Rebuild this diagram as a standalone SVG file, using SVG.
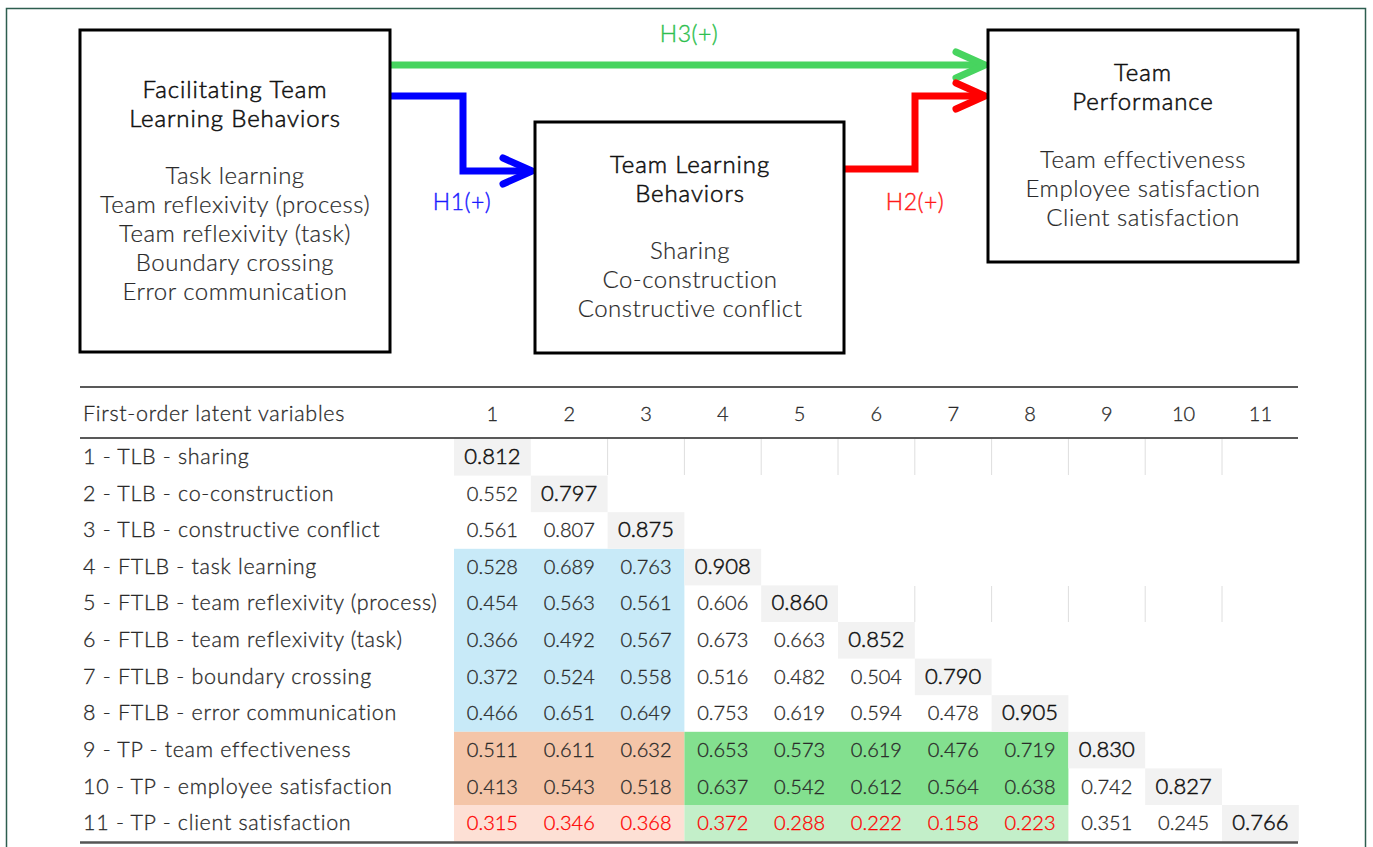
<svg xmlns="http://www.w3.org/2000/svg" width="1373" height="847" viewBox="0 0 1373 847">
<defs>
<style>
.bx{fill:#fff;stroke:#000;stroke-width:3}
.tt{font-family:Lato,"Open Sans","Liberation Sans",sans-serif;font-size:24px;letter-spacing:0.9px;fill:#111;stroke:#111;stroke-width:0.55px;text-anchor:middle;font-weight:300}
.it{font-family:Lato,"Open Sans","Liberation Sans",sans-serif;font-size:24px;letter-spacing:0.5px;fill:#2a2a2a;stroke:#2a2a2a;stroke-width:0.2px;text-anchor:middle;font-weight:300}
.lab{font-family:Lato,"Open Sans","Liberation Sans",sans-serif;font-size:23px;letter-spacing:0.5px;text-anchor:middle;font-weight:300;stroke-width:0.4px}
.con{fill:none;stroke-width:7;stroke-linejoin:miter}
.rl{font-family:Lato,"Open Sans","Liberation Sans",sans-serif;font-size:21.5px;letter-spacing:0.7px;fill:#2a2a2a;stroke:#2a2a2a;stroke-width:0.3px;font-weight:300}
.n{font-family:Lato,"Open Sans","Liberation Sans",sans-serif;font-size:20px;fill:#2a2a2a;stroke:#2a2a2a;stroke-width:0.3px;text-anchor:middle;font-weight:300}
.d{font-family:Lato,"Open Sans","Liberation Sans",sans-serif;font-size:22px;fill:#111;stroke:#111;stroke-width:0.5px;text-anchor:middle;font-weight:300}
.n .r{fill:#ff0000;stroke:#ff0000}
.vl{stroke:#dedede;stroke-width:1}
</style>
<marker id="ag" markerUnits="userSpaceOnUse" viewBox="0 0 40 40" markerWidth="40" markerHeight="40" refX="34" refY="20" orient="auto" overflow="visible"><path d="M5,7 L34,20 L5,33" fill="none" stroke="#47d45f" stroke-width="7" stroke-linecap="round" stroke-linejoin="round"/></marker>
<marker id="ab" markerUnits="userSpaceOnUse" viewBox="0 0 40 40" markerWidth="40" markerHeight="40" refX="34" refY="20" orient="auto" overflow="visible"><path d="M5,7 L34,20 L5,33" fill="none" stroke="#0000ff" stroke-width="7" stroke-linecap="round" stroke-linejoin="round"/></marker>
<marker id="ar" markerUnits="userSpaceOnUse" viewBox="0 0 40 40" markerWidth="40" markerHeight="40" refX="34" refY="20" orient="auto" overflow="visible"><path d="M5,7 L34,20 L5,33" fill="none" stroke="#ff0000" stroke-width="7" stroke-linecap="round" stroke-linejoin="round"/></marker>
</defs>
<rect x="0" y="0" width="1373" height="847" fill="#fff"/>
<rect x="6.5" y="8.5" width="1359" height="900" fill="none" stroke="#2d5e4f" stroke-width="1.5"/>

<g id="connectors">
<path class="con" stroke="#47d45f" d="M391,65 H985" marker-end="url(#ag)"/>
<path class="con" stroke="#0000ff" d="M391,96 H463 V171 H532" marker-end="url(#ab)"/>
<path class="con" stroke="#ff0000" d="M844,169 H915 V96 H985" marker-end="url(#ar)"/>
<text class="lab" x="689" y="42" fill="#2fbf4f" stroke="#2fbf4f">H3(+)</text>
<text class="lab" x="462" y="210" fill="#1a1aff" stroke="#1a1aff">H1(+)</text>
<text class="lab" x="915" y="210" fill="#ff1a1a" stroke="#ff1a1a">H2(+)</text>
</g>

<g id="node-ftlb">
<rect class="bx" x="80" y="30" width="310" height="322"/>
<text class="tt" x="235" y="98">Facilitating Team</text>
<text class="tt" x="235" y="127">Learning Behaviors</text>
<text class="it" x="235" y="184">Task learning</text>
<text class="it" x="235" y="213">Team reflexivity (process)</text>
<text class="it" x="235" y="242">Team reflexivity (task)</text>
<text class="it" x="235" y="271">Boundary crossing</text>
<text class="it" x="235" y="300">Error communication</text>
</g>

<g id="node-tlb">
<rect class="bx" x="535" y="122" width="309" height="231"/>
<text class="tt" x="690" y="173">Team Learning</text>
<text class="tt" x="690" y="202">Behaviors</text>
<text class="it" x="690" y="259">Sharing</text>
<text class="it" x="690" y="288">Co-construction</text>
<text class="it" x="690" y="317">Constructive conflict</text>
</g>

<g id="node-tp">
<rect class="bx" x="988" y="30" width="310" height="232"/>
<text class="tt" x="1143" y="81">Team</text>
<text class="tt" x="1143" y="110">Performance</text>
<text class="it" x="1143" y="168">Team effectiveness</text>
<text class="it" x="1143" y="197">Employee satisfaction</text>
<text class="it" x="1143" y="226">Client satisfaction</text>
</g>

<g id="table">
<rect x="454" y="548.8" width="230.4" height="183" fill="#c8eaf8"/>
<rect x="454" y="731.8" width="230.4" height="73.2" fill="#f4c5a8"/>
<rect x="454" y="805" width="230.4" height="36.6" fill="#fde0d5"/>
<rect x="684.4" y="731.8" width="384" height="73.2" fill="#83e08f"/>
<rect x="684.4" y="805" width="384" height="36.6" fill="#c3efc9"/>
<g fill="#f2f2f2">
<rect x="454" y="439" width="76.8" height="36.6"/>
<rect x="530.8" y="475.6" width="76.8" height="36.6"/>
<rect x="607.6" y="512.2" width="76.8" height="36.6"/>
<rect x="684.4" y="548.8" width="76.8" height="36.6"/>
<rect x="761.2" y="585.4" width="76.8" height="36.6"/>
<rect x="838" y="622" width="76.8" height="36.6"/>
<rect x="914.8" y="658.6" width="76.8" height="36.6"/>
<rect x="991.6" y="695.2" width="76.8" height="36.6"/>
<rect x="1068.4" y="731.8" width="76.8" height="36.6"/>
<rect x="1145.2" y="768.4" width="76.8" height="36.6"/>
<rect x="1222" y="805" width="76.8" height="36.6"/>
</g>
<g class="vl">
<line x1="607.6" y1="439" x2="607.6" y2="475"/>
<line x1="684.4" y1="439" x2="684.4" y2="475"/>
<line x1="761.2" y1="439" x2="761.2" y2="475"/>
<line x1="838" y1="439" x2="838" y2="475"/>
<line x1="914.8" y1="439" x2="914.8" y2="475"/>
<line x1="991.6" y1="439" x2="991.6" y2="475"/>
<line x1="1068.4" y1="439" x2="1068.4" y2="475"/>
<line x1="1145.2" y1="439" x2="1145.2" y2="475"/>
<line x1="1222" y1="439" x2="1222" y2="475"/>
<line x1="914.8" y1="586" x2="914.8" y2="622"/>
<line x1="991.6" y1="586" x2="991.6" y2="622"/>
<line x1="1068.4" y1="586" x2="1068.4" y2="622"/>
<line x1="1145.2" y1="586" x2="1145.2" y2="622"/>
<line x1="1222" y1="586" x2="1222" y2="622"/>
</g>
<line x1="80" y1="387" x2="1298" y2="387" stroke="#222" stroke-width="1.5"/>
<line x1="80" y1="438" x2="1298" y2="438" stroke="#222" stroke-width="1.5"/>
<line x1="80" y1="842.5" x2="1298" y2="842.5" stroke="#555" stroke-width="2.5"/>

<text class="rl" x="83" y="421">First-order latent variables</text>
<g class="n">
<text x="492.4" y="421">1</text><text x="569.2" y="421">2</text><text x="646" y="421">3</text><text x="722.8" y="421">4</text><text x="799.6" y="421">5</text><text x="876.4" y="421">6</text><text x="953.2" y="421">7</text><text x="1030" y="421">8</text><text x="1106.8" y="421">9</text><text x="1183.6" y="421">10</text><text x="1260.4" y="421">11</text>
</g>

<g class="rl">
<text x="83" y="464">1 - TLB - sharing</text>
<text x="83" y="501">2 - TLB - co-construction</text>
<text x="83" y="537">3 - TLB - constructive conflict</text>
<text x="83" y="574">4 - FTLB - task learning</text>
<text x="83" y="610">5 - FTLB - team reflexivity (process)</text>
<text x="83" y="647">6 - FTLB - team reflexivity (task)</text>
<text x="83" y="684">7 - FTLB - boundary crossing</text>
<text x="83" y="720">8 - FTLB - error communication</text>
<text x="83" y="757">9 - TP - team effectiveness</text>
<text x="83" y="794">10 - TP - employee satisfaction</text>
<text x="83" y="830">11 - TP - client satisfaction</text>
</g>

<g class="d">
<text x="492.4" y="464">0.812</text>
<text x="569.2" y="501">0.797</text>
<text x="646" y="537">0.875</text>
<text x="722.8" y="574">0.908</text>
<text x="799.6" y="610">0.860</text>
<text x="876.4" y="647">0.852</text>
<text x="953.2" y="684">0.790</text>
<text x="1030" y="720">0.905</text>
<text x="1106.8" y="757">0.830</text>
<text x="1183.6" y="794">0.827</text>
<text x="1260.4" y="830">0.766</text>
</g>

<g class="n">
<text x="492.4" y="501">0.552</text>
<text x="492.4" y="537">0.561</text><text x="569.2" y="537">0.807</text>
<text x="492.4" y="574">0.528</text><text x="569.2" y="574">0.689</text><text x="646" y="574">0.763</text>
<text x="492.4" y="610">0.454</text><text x="569.2" y="610">0.563</text><text x="646" y="610">0.561</text><text x="722.8" y="610">0.606</text>
<text x="492.4" y="647">0.366</text><text x="569.2" y="647">0.492</text><text x="646" y="647">0.567</text><text x="722.8" y="647">0.673</text><text x="799.6" y="647">0.663</text>
<text x="492.4" y="684">0.372</text><text x="569.2" y="684">0.524</text><text x="646" y="684">0.558</text><text x="722.8" y="684">0.516</text><text x="799.6" y="684">0.482</text><text x="876.4" y="684">0.504</text>
<text x="492.4" y="720">0.466</text><text x="569.2" y="720">0.651</text><text x="646" y="720">0.649</text><text x="722.8" y="720">0.753</text><text x="799.6" y="720">0.619</text><text x="876.4" y="720">0.594</text><text x="953.2" y="720">0.478</text>
<text x="492.4" y="757">0.511</text><text x="569.2" y="757">0.611</text><text x="646" y="757">0.632</text><text x="722.8" y="757">0.653</text><text x="799.6" y="757">0.573</text><text x="876.4" y="757">0.619</text><text x="953.2" y="757">0.476</text><text x="1030" y="757">0.719</text>
<text x="492.4" y="794">0.413</text><text x="569.2" y="794">0.543</text><text x="646" y="794">0.518</text><text x="722.8" y="794">0.637</text><text x="799.6" y="794">0.542</text><text x="876.4" y="794">0.612</text><text x="953.2" y="794">0.564</text><text x="1030" y="794">0.638</text><text x="1106.8" y="794">0.742</text>
<text class="r" x="492.4" y="830">0.315</text><text class="r" x="569.2" y="830">0.346</text><text class="r" x="646" y="830">0.368</text><text class="r" x="722.8" y="830">0.372</text><text class="r" x="799.6" y="830">0.288</text><text class="r" x="876.4" y="830">0.222</text><text class="r" x="953.2" y="830">0.158</text><text class="r" x="1030" y="830">0.223</text><text x="1106.8" y="830">0.351</text><text x="1183.6" y="830">0.245</text>
</g>
</g>
</svg>
